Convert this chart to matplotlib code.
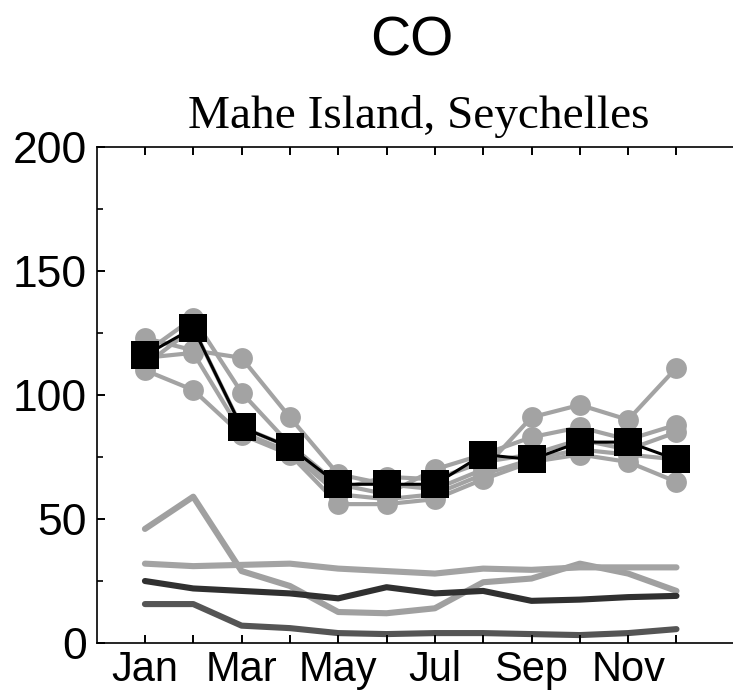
import matplotlib
matplotlib.use("Agg")
import matplotlib.pyplot as plt
from matplotlib.ticker import MultipleLocator

months = list(range(1, 13))
month_labels = ["Jan", "", "Mar", "", "May", "", "Jul", "", "Sep", "", "Nov", ""]

# Individual years of surface CO (ppb)
year_a = [123, 118, 115, 91, 68, 64, 62, 70, 91, 96, 90, 111]
year_b = [117, 131, 101, 80, 64, 60, 70, 76, 83, 87, 82, 88]
year_c = [112, 127, 87, 79, 62, 67, 66, 73, 76, 82, 78, 85]
year_d = [115, 117, 85, 77, 60, 58, 60, 68, 74, 78, 76, 74]
year_e = [110, 102, 84, 76, 56, 56, 58, 66, 73, 76, 73, 65]

# Climatological mean
mean_co = [116, 127, 87, 79, 64, 64, 64, 76, 74, 81, 81, 74]

# Source contributions
src_spike = [46, 59, 29, 23, 12.5, 12, 14, 24.5, 26, 32, 28, 21]
src_flat = [32, 31, 31.5, 32, 30, 29, 28, 30, 29.5, 30.5, 30.5, 30.5]
src_dark = [25, 22, 21, 20, 18, 22.5, 20, 21, 17, 17.5, 18.5, 19]
src_low = [15.7, 15.7, 7, 6, 4, 3.6, 4, 4, 3.6, 3.2, 4, 5.6]

fig = plt.figure(figsize=(7.33, 6.99), dpi=100)
ax = fig.add_axes([0.1318, 0.0801, 0.8682, 0.7096])

gray = "#a3a3a3"
for yr in (year_a, year_b, year_c, year_d, year_e):
    ax.plot(months, yr, color=gray, lw=3.0, marker="o", ms=15,
            markeredgewidth=0, zorder=2)

ax.plot(months, mean_co, color="black", lw=2.2, marker="s", ms=20,
        markeredgewidth=0, zorder=4)

line_kw = dict(lw=4.4, solid_capstyle="round", solid_joinstyle="round", zorder=1)
ax.plot(months, src_spike, color="#a0a0a0", **line_kw)
ax.plot(months, src_flat, color="#a3a3a3", **line_kw)
ax.plot(months, src_dark, color="#303030", **line_kw)
ax.plot(months, src_low, color="#555555", **line_kw)

ax.set_xlim(0, 13.17)
ax.set_ylim(0, 200)
ax.set_xticks(months)
ax.set_xticklabels(month_labels)
ax.yaxis.set_major_locator(MultipleLocator(50))
ax.yaxis.set_minor_locator(MultipleLocator(25))

ax.spines["right"].set_visible(False)
for s in ("left", "bottom", "top"):
    ax.spines[s].set_linewidth(1.2)

ax.tick_params(axis="x", which="both", direction="in", top=True, length=6,
               width=1.4, pad=5)
ax.tick_params(axis="y", which="major", direction="in", length=6, width=1.4,
               pad=7)
ax.tick_params(axis="y", which="minor", direction="in", length=4, width=1.2)
for lbl in ax.get_xticklabels():
    lbl.set_fontfamily("Liberation Sans")
    lbl.set_fontsize(30)
for lbl in ax.get_yticklabels():
    lbl.set_fontfamily("Liberation Sans")
    lbl.set_fontsize(32)

fig.text(0.5615, 0.940, "CO", ha="center", va="center",
         family="Liberation Sans", fontsize=40)
fig.text(0.5715, 0.833, "Mahe Island, Seychelles", ha="center", va="center",
         family="Liberation Serif", fontsize=34)

fig.savefig("out.png", dpi=100)
